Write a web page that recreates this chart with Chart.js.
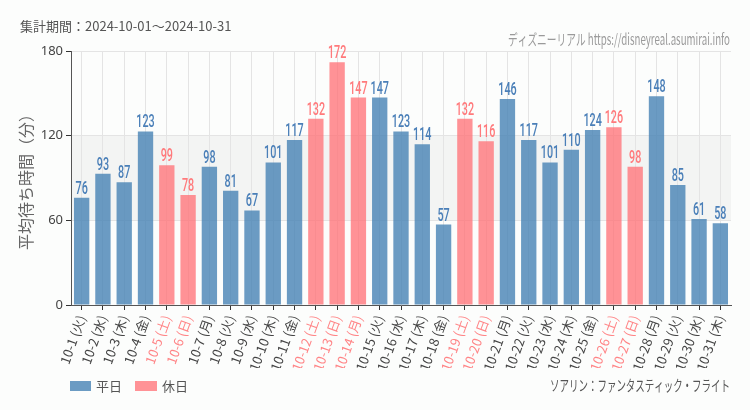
<!DOCTYPE html>
<html><head><meta charset="utf-8">
<script src="https://cdn.jsdelivr.net/npm/chart.js@4"></script>
<style>html,body{margin:0;padding:0;background:#fcfdfc;}#wrap{width:750px;height:410px;}</style>
</head><body>
<div id="wrap"><canvas id="c" width="750" height="410"></canvas></div>
<script>
const dates = ['10-1','10-2','10-3','10-4','10-5','10-6','10-7','10-8','10-9','10-10','10-11','10-12','10-13','10-14','10-15','10-16','10-17','10-18','10-19','10-20','10-21','10-22','10-23','10-24','10-25','10-26','10-27','10-28','10-29','10-30','10-31'];
const weekdays = ['火','水','木','金','土','日','月','火','水','木','金','土','日','月','火','水','木','金','土','日','月','火','水','木','金','土','日','月','火','水','木'];
const waitTimes = [76,93,87,123,99,78,98,81,67,101,117,132,172,147,147,123,114,57,132,116,146,117,101,110,124,126,98,148,85,61,58];
const holidayDates = ['10-5','10-6','10-12','10-13','10-14','10-19','10-20','10-26','10-27'];
const yTicks = [0,60,120,180];
const legendNames = ['平日','休日'];
const periodText = '集計期間：2024-10-01～2024-10-31';
const siteText = 'ディズニーリアル https://disneyreal.asumirai.info';
const attractionText = 'ソアリン：ファンタスティック・フライト';
const yTitle = '平均待ち時間（分）';

const BLUE = 'rgba(70,130,180,0.8)';
const PINK = 'rgba(255,115,120,0.78)';
const BLUE_TXT = '#4a7fb8';
const PINK_TXT = '#ff7a7c';

const labels = dates.map((d,i)=> d + ' (' + weekdays[i] + ')');
const isHoliday = dates.map(d => holidayDates.includes(d));

const condensedText = (ctx, text, x, y, sx, align) => {
  ctx.save();
  ctx.translate(x, y);
  ctx.scale(sx, 1);
  ctx.textAlign = align;
  ctx.fillText(text, 0, 0);
  ctx.restore();
};
const fitText = (ctx, text, xRight, y, width) => {
  const w = ctx.measureText(text).width;
  ctx.save();
  ctx.translate(xRight, y);
  ctx.scale(width / w, 1);
  ctx.textAlign = 'right';
  ctx.fillText(text, 0, 0);
  ctx.restore();
};

const decor = {
  id: 'decor',
  beforeDraw(chart) {
    const {ctx, chartArea: a, scales: {y}} = chart;
    ctx.save();
    ctx.fillStyle = '#fcfdfc';
    ctx.fillRect(0, 0, chart.width, chart.height);
    const y1 = y.getPixelForValue(120), y2 = y.getPixelForValue(60);
    ctx.fillStyle = '#f3f4f3';
    ctx.fillRect(a.left, y1, a.right - a.left, y2 - y1);
    ctx.restore();
  },
  afterDatasetsDraw(chart) {
    const {ctx} = chart;
    const meta = chart.getDatasetMeta(0);
    ctx.save();
    ctx.font = '500 18px Roboto';
    ctx.textBaseline = 'alphabetic';
    meta.data.forEach((bar, i) => {
      ctx.fillStyle = isHoliday[i] ? PINK_TXT : BLUE_TXT;
      condensedText(ctx, String(waitTimes[i]), bar.x, bar.y - 4, 0.6, 'center');
    });
    ctx.restore();
  },
  afterDraw(chart) {
    const {ctx} = chart;
    ctx.save();
    ctx.textBaseline = 'middle';
    ctx.fillStyle = '#555';
    ctx.font = '13px "Noto Sans CJK JP"';
    ctx.textAlign = 'left';
    ctx.fillText(periodText, 20, 26);
    ctx.fillStyle = '#9a9a9a';
    ctx.font = '15px "Noto Sans CJK JP"';
    fitText(ctx, siteText, 730, 39, 222);
    ctx.fillStyle = '#555';
    ctx.font = '15px "Noto Sans CJK JP"';
    fitText(ctx, attractionText, 730, 385, 180);
    ctx.fillStyle = BLUE; ctx.fillRect(70, 381, 21, 10);
    ctx.fillStyle = PINK; ctx.fillRect(135, 381, 22, 10);
    ctx.fillStyle = '#555';
    ctx.font = '13px "Noto Sans CJK JP"';
    ctx.textAlign = 'left';
    ctx.fillText(legendNames[0], 96, 386);
    ctx.fillText(legendNames[1], 162, 386);
    ctx.restore();
  }
};

new Chart(document.getElementById('c'), {
  type: 'bar',
  data: {
    labels: labels,
    datasets: [{
      data: waitTimes,
      backgroundColor: isHoliday.map(h => h ? PINK : BLUE),
      borderWidth: 0
    }]
  },
  options: {
    responsive: false,
    devicePixelRatio: 1,
    animation: false,
    layout: {padding: {left: 0, right: 19, top: 51, bottom: 42}},
    plugins: {legend: {display: false}, tooltip: {enabled: false}},
    scales: {
      x: {
        grid: {offset: false, color: '#e4e4e4', tickColor: '#333', tickLength: 5},
        border: {color: '#555'},
        ticks: {
          minRotation: 70, maxRotation: 70, autoSkip: false,
          font: {size: 13, family: '"Noto Sans CJK JP"'},
          color: ctx => isHoliday[ctx.index] ? '#ff8486' : '#444'
        },
        afterFit: s => { s.height = 63; }
      },
      y: {
        min: 0, max: 180,
        afterBuildTicks: s => { s.ticks = yTicks.map(v => ({value: v})); },
        grid: {color: '#e4e4e4', tickColor: '#333', tickLength: 5},
        border: {color: '#555'},
        ticks: {font: {size: 13, family: '"Noto Sans"'}, color: '#444', padding: 3},
        title: {display: true, text: yTitle, font: {size: 16, family: '"Noto Sans CJK JP"'}, color: '#666', padding: {top: 16, bottom: 0}},
        afterFit: s => { s.width = 71; }
      }
    }
  },
  plugins: [decor]
});
</script>
</body></html>
